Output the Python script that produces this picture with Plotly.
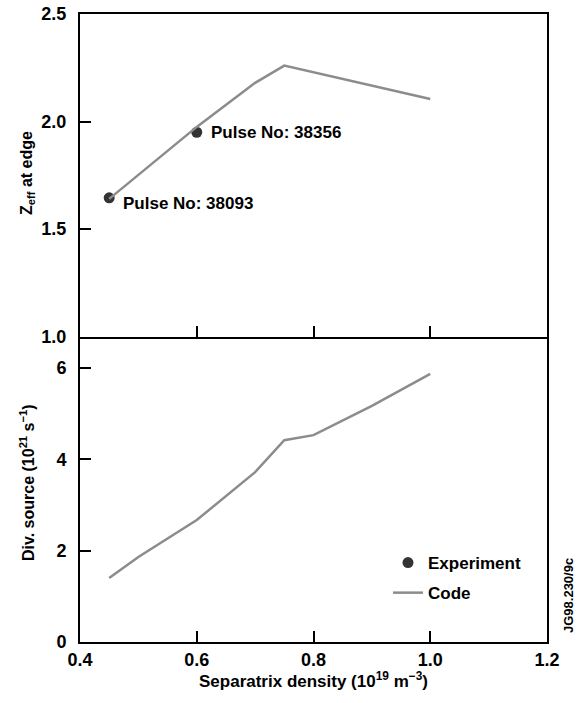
import plotly.graph_objects as go

# Model ("Code") results versus separatrix density
density_code = [0.45, 0.6, 0.7, 0.75, 1.0]
zeff_code = [1.64, 1.975, 2.18, 2.26, 2.105]

density_src = [0.45, 0.5, 0.6, 0.65, 0.7, 0.75, 0.77, 0.8, 0.9, 1.0]
div_source_code = [1.40, 1.86, 2.67, 3.20, 3.72, 4.42, 4.47, 4.53, 5.17, 5.87]

# Experimental points (two pulses)
density_exp = [0.45, 0.6]
zeff_exp = [1.645, 1.95]
pulse_labels = ["Pulse No: 38093", "Pulse No: 38356"]

FONT = "Liberation Sans, Arial, sans-serif"
LINE_COL = "#8c8c8c"
MARK_COL = "#333333"

W, H = 577, 703
L, R, T, B = 80, 30, 14, 61
plot_h = H - T - B
split = (642 - 336.5) / plot_h

fig = go.Figure()

# Upper panel: Zeff at edge
fig.add_trace(go.Scatter(
    x=density_exp, y=zeff_exp, mode="markers", name="Experiment",
    marker=dict(size=11, color=MARK_COL, line=dict(width=0)),
    xaxis="x", yaxis="y", legendrank=1, legendgroup="exp"))
fig.add_trace(go.Scatter(
    x=density_code, y=zeff_code, mode="lines", name="Code",
    line=dict(color=LINE_COL, width=2.5),
    xaxis="x", yaxis="y", legendrank=2, legendgroup="code"))

# Lower panel: divertor source
fig.add_trace(go.Scatter(
    x=density_src, y=div_source_code, mode="lines", name="Code",
    line=dict(color=LINE_COL, width=2.5), showlegend=False,
    xaxis="x2", yaxis="y2", legendgroup="code"))

tickfont = dict(family=FONT, size=18, color="black", weight="bold")
axis_common = dict(showline=True, linecolor="black", linewidth=2,
                   ticks="inside", ticklen=11, tickwidth=1.5, tickcolor="black",
                   showgrid=False, zeroline=False, tickfont=tickfont,
                   automargin=False)

fig.update_layout(
    width=W, height=H,
    margin=dict(l=L, r=R, t=T, b=B, autoexpand=False),
    paper_bgcolor="white", plot_bgcolor="white",
    xaxis=dict(domain=[0, 1], anchor="y", range=[0.4, 1.2], mirror=True,
               tickvals=[0.6, 0.8, 1.0], showticklabels=False, **axis_common),
    yaxis=dict(domain=[split, 1], anchor="x", range=[1.0, 2.5], mirror=True,
               tickvals=[1.0, 1.5, 2.0, 2.5], ticktext=["1.0", "1.5", "2.0", "2.5"],
               ticklabelstandoff=8, **axis_common),
    xaxis2=dict(domain=[0, 1], anchor="y2", range=[0.4, 1.2], mirror=False,
                tickvals=[0.4, 0.6, 0.8, 1.0, 1.2],
                ticktext=["0.4", "0.6", "0.8", "1.0", "1.2"],
                ticklabelstandoff=0, **axis_common),
    yaxis2=dict(domain=[0, split], anchor="x2", range=[0, 6.69], mirror=True,
                tickvals=[0, 2, 4, 6], ticklabelstandoff=8, **axis_common),
    showlegend=True,
    legend=dict(x=(388 - L) / (W - L - R), y=(642 - 545) / plot_h,
                xanchor="left", yanchor="top", bgcolor="rgba(0,0,0,0)",
                font=dict(family=FONT, size=17, color="black", weight="bold"),
                itemwidth=30, tracegroupgap=5),
)

annots = []
# Pulse labels next to the experimental points
for xv, yv, txt in zip(density_exp, zeff_exp, pulse_labels):
    annots.append(dict(x=xv, y=yv, xref="x", yref="y", text=txt, showarrow=False,
                       xanchor="left", yanchor="middle", xshift=12,
                       yshift=-6 if xv < 0.5 else 0,
                       font=dict(family=FONT, size=17, color="black", weight="bold")))

title_font = dict(family=FONT, size=16, color="black", weight="bold")
annots.append(dict(x=(27 - L) / (W - L - R), y=(H - B - 173) / plot_h,
                   xref="paper", yref="paper", text="Z<sub>eff</sub> at edge",
                   textangle=-90, showarrow=False, font=title_font,
                   xanchor="center", yanchor="middle"))
annots.append(dict(x=(27 - L) / (W - L - R), y=(H - B - 483) / plot_h,
                   xref="paper", yref="paper",
                   text="Div. source (10<sup>21</sup> s<sup>\u22121</sup>)",
                   textangle=-90, showarrow=False, font=title_font,
                   xanchor="center", yanchor="middle"))
annots.append(dict(x=0.5, y=(H - B - 680) / plot_h, xref="paper", yref="paper",
                   text="Separatrix density (10<sup>19</sup> m<sup>\u22123</sup>)",
                   showarrow=False,
                   font=dict(family=FONT, size=17, color="black", weight="bold"),
                   xanchor="center", yanchor="middle"))
annots.append(dict(x=(568 - L) / (W - L - R), y=(H - B - 596) / plot_h,
                   xref="paper", yref="paper", text="JG98.230/9c",
                   textangle=-90, showarrow=False,
                   font=dict(family=FONT, size=13, color="black", weight="bold"),
                   xanchor="center", yanchor="middle"))
fig.update_layout(annotations=annots)

fig.write_html("out.html")
